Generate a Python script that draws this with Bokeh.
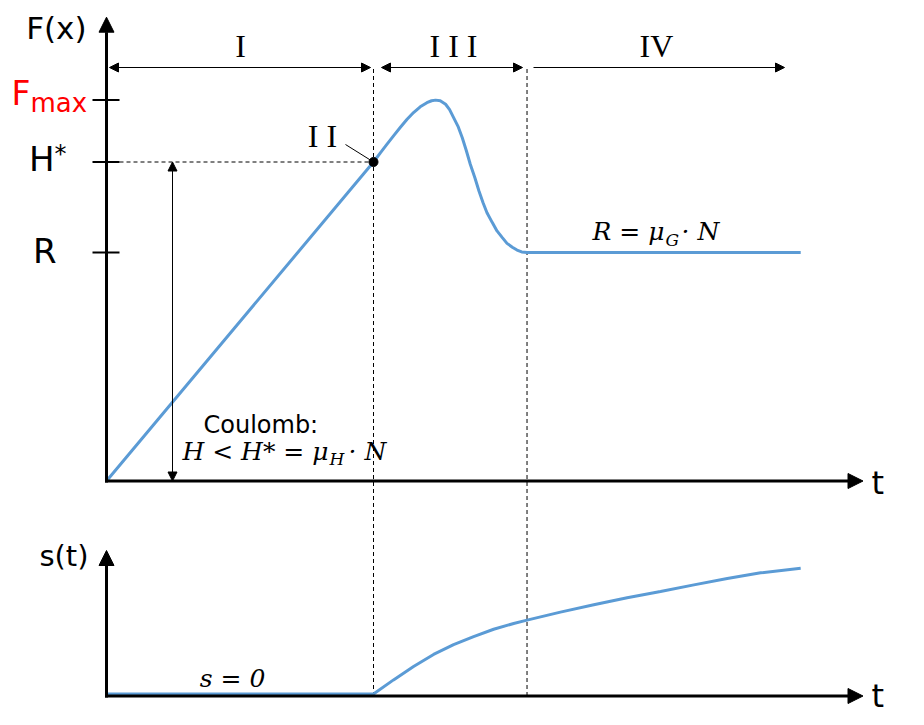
from bokeh.plotting import figure
from bokeh.models import Range1d, Arrow, NormalHead, Label
from bokeh.embed import file_html
from bokeh.resources import INLINE

# ---------------- data ----------------
# phase boundaries on the time axis
t_stick_end = 4.0      # end of phase I / point II
t_slip_start = 6.3     # start of phase IV
t_end = 10.4

# force levels
level_names = ["Fmax", "H*", "R"]
F_max = 11.94
H_star = 10.0
R_level = 7.16
levels = [F_max, H_star, R_level]

# F(t) curve
F_t = [0.0, 4.0, 4.1, 4.2, 4.3, 4.4, 4.5, 4.6, 4.7, 4.8, 4.87, 4.93, 5.0, 5.08, 5.14,
       5.2, 5.27, 5.33, 5.39, 5.45, 5.52, 5.58, 5.64, 5.7, 5.78, 5.85, 5.93, 6.0,
       6.08, 6.15, 6.22, 6.3, 10.4]
F_v = [0.0, 10.0, 10.28, 10.55, 10.82, 11.08, 11.33, 11.55, 11.73, 11.86, 11.92, 11.94,
       11.92, 11.81, 11.64, 11.39, 11.1, 10.76, 10.36, 9.93, 9.5, 9.09, 8.73, 8.41,
       8.1, 7.84, 7.63, 7.45, 7.33, 7.24, 7.18, 7.16, 7.16]

# s(t) curve
s_t = [0.0, 4.0, 4.3, 4.6, 4.9, 5.2, 5.5, 5.8, 6.1, 6.3, 6.8, 7.3, 7.8, 8.3, 8.8,
       9.3, 9.8, 10.4]
s_v = [0.0, 0.0, 0.56, 1.09, 1.57, 1.96, 2.28, 2.57, 2.80, 2.93, 3.25, 3.54, 3.82,
       4.07, 4.33, 4.58, 4.81, 4.99]

phase_labels = ["I", "II", "III", "IV"]

# ---------------- figure ----------------
BLUE = "#5B9BD5"
SANS = "DejaVu Sans"
SERIF = "Liberation Serif"
MATH = "DejaVu Serif"

W, H = 924, 725
XPX, FPX, SPX = 66.75, 31.9, 25.2   # pixels per unit
X0, F0, S0 = 106, 480.5, 693.5      # screen position of the zeros

p = figure(width=W, height=H,
           x_range=Range1d(-X0 / XPX, (W - X0) / XPX),
           y_range=Range1d(-(H - F0) / FPX, F0 / FPX),
           output_backend="svg", toolbar_location=None,
           x_axis_location=None, y_axis_location=None, min_border=0)
p.extra_y_ranges = {"s": Range1d(-(H - S0) / SPX, S0 / SPX)}
p.grid.visible = False
p.outline_line_color = None
p.background_fill_color = "white"
p.border_fill_color = "white"


# helpers for placing annotations (screen position -> data units)
def tx(px):
    return (px - X0) / XPX


def fy(py):
    return (F0 - py) / FPX


def sy(py):
    return (S0 - py) / SPX


# dashed guide lines (span both panels, drawn in s units)
for tb in [t_stick_end, t_slip_start]:
    p.segment(x0=[tb], y0=[sy(695.5)], x1=[tb], y1=[sy(67)], y_range_name="s",
              line_color="black", line_width=1, line_dash="4 3")
p.segment(x0=[tx(119)], y0=[H_star], x1=[t_stick_end], y1=[H_star],
          line_color="black", line_width=1, line_dash="4 3")


def head(sz):
    return NormalHead(size=sz, fill_color="black", line_color="black", line_width=1)


# axes (top panel)
p.add_layout(Arrow(end=head(15), x_start=0, y_start=fy(482), x_end=0, y_end=fy(16.7),
                   line_width=3, line_color="black"))
p.add_layout(Arrow(end=head(15), x_start=tx(104.5), y_start=0, x_end=tx(862.5), y_end=0,
                   line_width=3, line_color="black"))
# axes (bottom panel)
p.add_layout(Arrow(end=head(15), x_start=0, y_start=sy(697), x_end=0, y_end=sy(550),
                   line_width=3, line_color="black", y_range_name="s"))
p.add_layout(Arrow(end=head(15), x_start=tx(104.5), y_start=sy(695.5), x_end=tx(862.5),
                   y_end=sy(695.5), line_width=3, line_color="black", y_range_name="s"))

# ticks
p.segment(x0=[tx(92)] * 3, y0=levels, x1=[tx(119)] * 3, y1=levels,
          line_color="black", line_width=2)

# phase arrows
ya = fy(67)
p.add_layout(Arrow(start=head(9), end=head(9), x_start=tx(109), y_start=ya,
                   x_end=tx(370), y_end=ya, line_width=1, line_color="black"))
p.add_layout(Arrow(start=head(9), end=head(9), x_start=tx(381), y_start=ya,
                   x_end=tx(522), y_end=ya, line_width=1, line_color="black"))
p.add_layout(Arrow(end=head(9), x_start=tx(533), y_start=ya,
                   x_end=tx(784), y_end=ya, line_width=1, line_color="black"))

# H* double arrow
p.add_layout(Arrow(start=head(9), end=head(9), x_start=tx(172), y_start=0,
                   x_end=tx(172), y_end=H_star, line_width=1, line_color="black"))

# curves
p.line(F_t, F_v, line_color=BLUE, line_width=3)
p.line(s_t, s_v, line_color=BLUE, line_width=3, y_range_name="s")

# point II with leader
p.segment(x0=[tx(345)], y0=[fy(144)], x1=[t_stick_end], y1=[H_star],
          line_color="black", line_width=1)
p.scatter([t_stick_end], [H_star], size=9, color="black")


def lab(text, x, y, size, font=SANS, color="black", align="left", style="normal",
        rng="default"):
    px = float(size.replace("px", ""))
    p.add_layout(Label(x=x, y=y, text=text, text_font=font, text_font_size=size,
                       text_color=color, text_align=align, text_baseline="alphabetic",
                       text_font_style=style, y_range_name=rng, y_offset=0.36 * px))


# axis titles and level labels
lab("F(x)", tx(86), fy(39), "31px", align="right")
lab("F", tx(30), fy(104.5), "33px", color="red", align="right")
lab("max", tx(30), fy(112), "26px", color="red")
lab("H", tx(54), fy(171), "34px", align="right")
lab("*", tx(54), fy(162), "24px")
lab("R", tx(56), fy(262.5), "34px", align="right")
lab("t", tx(871), fy(494), "32px")
lab("s(t)", tx(88), sy(566), "29px", align="right", rng="s")
lab("t", tx(871), sy(707), "32px", rng="s")

# phase numerals
lab("I", tx(240), fy(57), "32px", font=SERIF, align="center")
lab("I I I", tx(453), fy(57), "32px", font=SERIF, align="center")
lab("IV", tx(656), fy(57), "32px", font=SERIF, align="center")
lab("I I", tx(322), fy(147), "32px", font=SERIF, align="center")

# formulas
lab("Coulomb:", tx(203), fy(433), "24px")
lab("H < H* = μ", tx(328), fy(460), "25px", font=MATH, align="right", style="italic")
lab("H", tx(329), fy(465), "17px", font=MATH, style="italic")
lab("· N", tx(348), fy(460), "25px", font=MATH, style="italic")

lab("R = μ", tx(664), fy(240), "25px", font=MATH, align="right", style="italic")
lab("G", tx(665), fy(246), "17px", font=MATH, style="italic")
lab("· N", tx(681), fy(240), "25px", font=MATH, style="italic")

lab("s = 0", tx(232), sy(687), "25px", font=MATH, align="center", style="italic", rng="s")

open("out.html", "w").write(file_html(p, INLINE))
